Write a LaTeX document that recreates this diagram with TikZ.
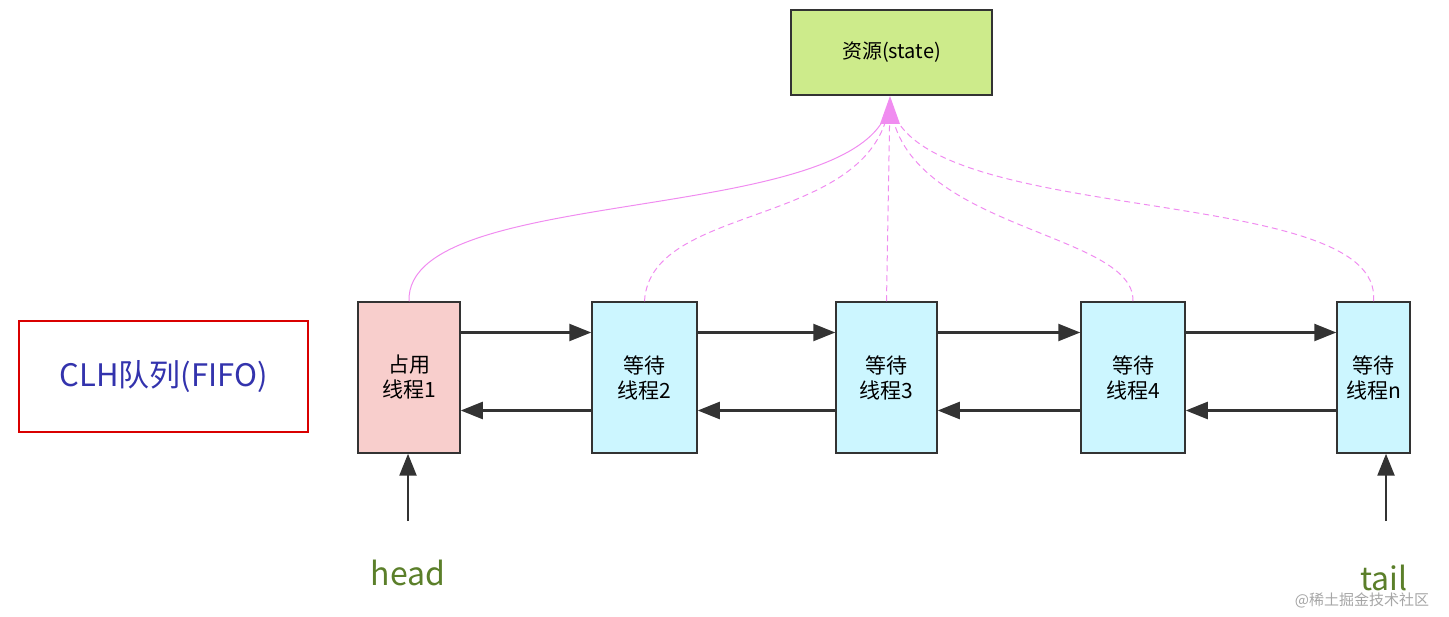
\documentclass[tikz,border=0pt]{standalone}
\usepackage{fontspec}
\setmainfont{Noto Sans CJK SC}
\usetikzlibrary{arrows.meta}
\definecolor{pk}{HTML}{F08CF0}
\definecolor{cy}{HTML}{CCF6FF}
\definecolor{gr}{HTML}{CDEB8B}
\definecolor{rd}{HTML}{F8CECC}
\definecolor{hd}{HTML}{5B7F2A}
\begin{document}
\begin{tikzpicture}[x=1pt,y=-1pt,
  box/.style={draw=black!80,line width=1.5pt,minimum width=102pt,minimum height=151pt,align=center,font=\fontsize{21}{25}\selectfont,inner sep=0},
  lk/.style={draw=black!80,line width=2.5pt,-{Triangle[length=22pt,width=17pt]}},
  pl/.style={draw=pk,line width=1pt},
  pd/.style={pl,dash pattern=on 6pt off 4pt}]
\useasboundingbox (0,0) rectangle (1449,617);
\node[draw=black!80,line width=1.5pt,fill=gr,minimum width=201pt,minimum height=85pt,font=\fontsize{20}{24}\selectfont] (s) at (891.5,52.5) {资源(state)};
\node[draw=red!85!black,line width=2pt,minimum width=289pt,minimum height=111pt,text=blue!60!black!80,font=\fontsize{31}{36}\selectfont] (clh) at (163.5,376.5) {CLH队列(FIFO)};
\node[box,fill=rd] (n1) at (409,377.5) {占用\\线程1};
\node[box,fill=cy,minimum width=105pt] (n2) at (644.5,377.5) {等待\\线程2};
\node[box,fill=cy,minimum width=101pt] (n3) at (886.5,377.5) {等待\\线程3};
\node[box,fill=cy,minimum width=104pt] (n4) at (1133,377.5) {等待\\线程4};
\node[box,fill=cy,minimum width=73pt] (nn) at (1373.5,377.5) {等待\\线程n};
\foreach \a/\b in {n1/n2,n2/n3,n3/n4,n4/nn}{
  \draw[lk] ([yshift=45pt]\a.east) -- ([yshift=45pt]\b.west);
  \draw[lk] ([yshift=-33pt]\b.west) -- ([yshift=-33pt]\a.east);}
\coordinate (t) at (890,98);
\draw[pl] (n1.north) .. controls (405,180) and (880,230) .. (t);
\draw[pd] (n2.north) .. controls (650,200) and (880,230) .. (t);
\draw[pd] (n3.north) -- (t);
\draw[pd] (n4.north) .. controls (1135,230) and (895,230) .. (t);
\draw[pd] (nn.north) .. controls (1385,180) and (900,230) .. (t);
\fill[pk] (890,96) -- (880,124) -- (900,124) -- cycle;
\node[text=hd,font=\fontsize{32}{36}\selectfont] (h) at (408,573) {head};
\node[text=hd,font=\fontsize{32}{36}\selectfont] (tl) at (1384,578) {tail};
\coordinate (ha) at (408,521);
\coordinate (ta) at (1386,521);
\draw[lk] (ha) -- (ha|-n1.south);
\draw[lk] (ta) -- (ta|-nn.south);
\node[text=black!35,font=\fontsize{15}{18}\selectfont] (wm) at (1362,600) {@稀土掘金技术社区};
\end{tikzpicture}
\end{document}
